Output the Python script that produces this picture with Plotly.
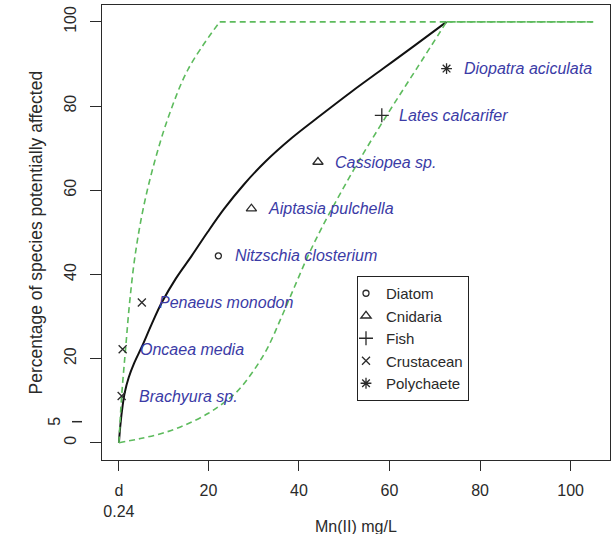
import plotly.graph_objects as go

# ---- data ----
species = ["Brachyura sp.", "Oncaea media", "Penaeus monodon", "Nitzschia closterium",
           "Aiptasia pulchella", "Cassiopea sp.", "Lates calcarifer", "Diopatra aciculata"]
taxon = ["Crustacean", "Crustacean", "Crustacean", "Diatom",
         "Cnidaria", "Cnidaria", "Fish", "Polychaete"]
conc = [0.84, 1.06, 5.3, 22.2, 29.5, 44.2, 58.3, 72.6]
pct = [11.1, 22.2, 33.3, 44.4, 55.6, 66.7, 77.8, 88.9]

# fitted species sensitivity curve (black)
fit_x = [0.24, 0.5, 0.9, 1.5, 2.4, 3.6, 5.3, 7.4, 9.7, 12.8, 16.3, 19.8, 23.5, 27.8, 32.5,
         38.4, 44.8, 51.6, 58.6, 65.6, 72.6]
fit_y = [0, 3.5, 7.5, 11.8, 15.5, 18.9, 22.8, 28, 33.3, 39, 44.4, 50, 55.6, 61.3, 66.7,
         72.4, 77.8, 83.4, 88.9, 94.4, 100]

# confidence limits (green dashed): rising parts and the plateau
upper_x = [0.24, 0.84, 1.7, 2.6, 3.8, 5.6, 8.1, 11.3, 15.6, 22.5]
upper_y = [0, 11.1, 22.2, 33.3, 44.4, 55.6, 66.7, 77.8, 88.9, 100]
upper_flat_x = [22.5, 105]
upper_flat_y = [100, 100]

lower_x = [0.24, 5, 10, 15, 20, 23, 26.2, 29.5, 32.9, 36, 39, 42, 45, 48, 53.1, 59.4, 66.0, 72.6]
lower_y = [0, 1, 2.3, 4.3, 7, 9.2, 12, 16.4, 22.2, 29.5, 37, 44.4, 51, 57, 66.7, 77.8, 88.9, 100]
lower_flat_x = [72.6, 105]
lower_flat_y = [100, 100]

legend_order = ["Diatom", "Cnidaria", "Fish", "Crustacean", "Polychaete"]
symbols = {"Diatom": "circle-open", "Cnidaria": "triangle-up-open", "Fish": "cross-thin-open",
           "Crustacean": "x-thin-open", "Polychaete": "asterisk-open"}
sizes = {"Diatom": 6, "Cnidaria": 9, "Fish": 10, "Crustacean": 8, "Polychaete": 9}

x_ticks = [0.24, 20, 40, 60, 80, 100]
x_ticktext = ["d<br>0.24", "20", "40", "60", "80", "100"]
y_ticks = [0, 20, 40, 60, 80, 100]
y_ticktext = ["0", "20", "40", "60", "80", "100"]

FONT = "Liberation Sans, Arial, sans-serif"
GREEN = "#5dbb5d"
INK = "#2a2a2a"
X_RANGE = [-3.5, 108.7]
Y_RANGE = [-4.1, 104]

fig = go.Figure()

fig.add_trace(go.Scatter(x=fit_x, y=fit_y, mode="lines", showlegend=False,
                         line=dict(color="#111111", width=2, shape="spline", smoothing=1.0),
                         hoverinfo="skip"))
for xs, ys, shp in [(upper_x, upper_y, "spline"), (upper_flat_x, upper_flat_y, "linear"),
                    (lower_x, lower_y, "spline"), (lower_flat_x, lower_flat_y, "linear")]:
    fig.add_trace(go.Scatter(x=xs, y=ys, mode="lines", showlegend=False,
                             line=dict(color=GREEN, width=1.6, dash="6px,4px", shape=shp,
                                       smoothing=1.0),
                             hoverinfo="skip"))

for g in legend_order:
    xs = [c for c, t in zip(conc, taxon) if t == g]
    ys = [p for p, t in zip(pct, taxon) if t == g]
    fig.add_trace(go.Scatter(x=xs, y=ys, mode="markers", name=g,
                             marker=dict(symbol=symbols[g], size=sizes[g], color=INK,
                                         line=dict(color=INK, width=1.3))))

for s, c, p in zip(species, conc, pct):
    fig.add_annotation(x=c, y=p, text="<i>" + s + "</i>", showarrow=False,
                       xanchor="left", yanchor="middle", xshift=15,
                       font=dict(family=FONT, size=16, color="#3b3ba6"))

# extra "5" label on the y axis with its small dash
y5 = (5 - Y_RANGE[0]) / (Y_RANGE[1] - Y_RANGE[0])
fig.add_annotation(x=0, y=y5, xref="paper", yref="paper", text="5", showarrow=False,
                   textangle=-90, xanchor="center", yanchor="middle", xshift=-47,
                   font=dict(family=FONT, size=16, color=INK))
fig.add_shape(type="line", xref="paper", yref="paper", x0=-30 / 508, x1=-20 / 508,
              y0=y5, y1=y5, line=dict(color=INK, width=1.5))

# axis titles
fig.add_annotation(x=0.5, y=-66 / 455, xref="paper", yref="paper", text="Mn(II) mg/L",
                   showarrow=False, xanchor="center", yanchor="middle",
                   font=dict(family=FONT, size=16, color=INK))
fig.add_annotation(x=-67 / 508, y=0.5, xref="paper", yref="paper",
                   text="Percentage of species potentially affected", textangle=-90,
                   showarrow=False, xanchor="center", yanchor="middle",
                   font=dict(family=FONT, size=17.5, color=INK))

fig.update_layout(
    width=613, height=534,
    margin=dict(l=102, r=3, t=5, b=74),
    paper_bgcolor="white", plot_bgcolor="white",
    font=dict(family=FONT, size=16, color=INK),
    legend=dict(x=(357 - 102) / 508, y=(460 - 276) / 455, xanchor="left", yanchor="top",
                bordercolor="#222", borderwidth=1, bgcolor="white",
                font=dict(family=FONT, size=15, color=INK),
                itemwidth=30, tracegroupgap=0, indentation=-12),
    xaxis=dict(range=X_RANGE, tickmode="array", tickvals=x_ticks, ticktext=x_ticktext,
               showgrid=False, zeroline=False, showline=True, mirror=True,
               linecolor=INK, linewidth=1.2, ticks="outside", ticklen=10, tickwidth=1.2,
               tickcolor=INK, tickfont=dict(size=16), ticklabelstandoff=6),
    yaxis=dict(range=Y_RANGE, tickmode="array", tickvals=y_ticks, ticktext=y_ticktext,
               showgrid=False, zeroline=False, showline=True, mirror=True,
               linecolor=INK, linewidth=1.2, ticks="outside", ticklen=11, tickwidth=1.2,
               tickcolor=INK, tickangle=-90, tickfont=dict(size=16), ticklabelstandoff=8),
)

fig.write_html("out.html", config={"displayModeBar": False},
               post_script="document.body.style.margin='0';")
